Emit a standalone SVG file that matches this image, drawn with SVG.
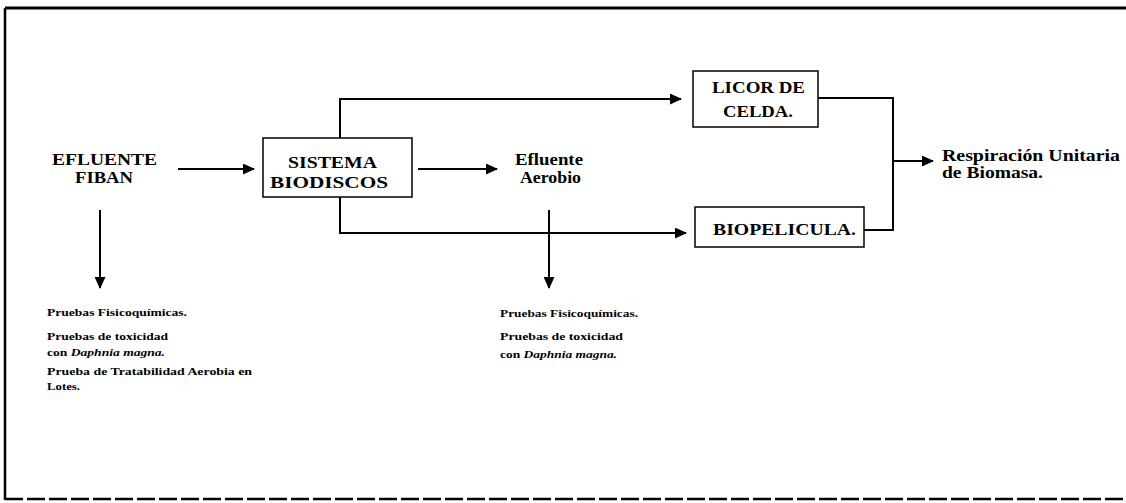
<svg xmlns="http://www.w3.org/2000/svg" width="1126" height="503" viewBox="0 0 1126 503">
  <style>
    .lbl { font-family: "Liberation Serif", "Times New Roman", serif; font-weight: bold; font-size: 17px; fill: #000; }
    .note { font-family: "Liberation Serif", "Times New Roman", serif; font-weight: bold; font-size: 11px; fill: #000; }
    .box { fill: #fff; stroke: #000; stroke-width: 1.5; }
    .wire { fill: none; stroke: #000; stroke-width: 2; }
  </style>
  <defs>
    <marker id="arrow" markerWidth="12" markerHeight="11" refX="11" refY="5.5" orient="auto" markerUnits="userSpaceOnUse">
      <path d="M0,0 L12,5.5 L0,11 Z" fill="#000"/>
    </marker>
  </defs>

  <rect width="1126" height="503" fill="#fff"/>

  <!-- page frame -->
  <g id="frame">
    <line x1="5" y1="8" x2="1126" y2="8" stroke="#000" stroke-width="3"/>
    <line x1="5" y1="8" x2="5" y2="500" stroke="#000" stroke-width="2.5"/>
    <line x1="5" y1="499" x2="1126" y2="499" stroke="#000" stroke-width="2.5" stroke-dasharray="18,4"/>
  </g>

  <!-- connectors -->
  <g id="connectors">
    <line class="wire" x1="178" y1="169" x2="254" y2="169" marker-end="url(#arrow)"/>
    <line class="wire" x1="418" y1="169" x2="497" y2="169" marker-end="url(#arrow)"/>
    <polyline class="wire" points="340,138 340,99 681,99" marker-end="url(#arrow)"/>
    <polyline class="wire" points="340,197 340,233 686,233" marker-end="url(#arrow)"/>
    <polyline class="wire" points="818,98 893,98 893,230 864,230"/>
    <line class="wire" x1="893" y1="161" x2="933" y2="161" marker-end="url(#arrow)"/>
    <line class="wire" x1="100" y1="210" x2="100" y2="288" marker-end="url(#arrow)"/>
    <line class="wire" x1="549" y1="210" x2="549" y2="288" marker-end="url(#arrow)"/>
  </g>

  <g id="efluente-fiban">
    <text class="lbl" x="52" y="165" textLength="105" lengthAdjust="spacingAndGlyphs">EFLUENTE</text>
    <text class="lbl" x="75" y="183" textLength="58" lengthAdjust="spacingAndGlyphs">FIBAN</text>
  </g>

  <g id="sistema-biodiscos">
    <rect class="box" x="263" y="138" width="149" height="59"/>
    <text class="lbl" x="288" y="168" textLength="89" lengthAdjust="spacingAndGlyphs">SISTEMA</text>
    <text class="lbl" x="270" y="188" textLength="118" lengthAdjust="spacingAndGlyphs">BIODISCOS</text>
  </g>

  <g id="efluente-aerobio">
    <text class="lbl" x="515" y="165" textLength="68" lengthAdjust="spacingAndGlyphs">Efluente</text>
    <text class="lbl" x="520" y="183" textLength="61" lengthAdjust="spacingAndGlyphs">Aerobio</text>
  </g>

  <g id="licor-celda">
    <rect class="box" x="693" y="71" width="125" height="56"/>
    <text class="lbl" x="712" y="93" textLength="93" lengthAdjust="spacingAndGlyphs">LICOR DE</text>
    <text class="lbl" x="723" y="117" textLength="70" lengthAdjust="spacingAndGlyphs">CELDA.</text>
  </g>

  <g id="biopelicula">
    <rect class="box" x="695" y="207" width="169" height="40"/>
    <text class="lbl" x="713" y="235" textLength="143" lengthAdjust="spacingAndGlyphs">BIOPELICULA.</text>
  </g>

  <g id="respiracion">
    <text class="lbl" x="942" y="161" textLength="178" lengthAdjust="spacingAndGlyphs">Respiración Unitaria</text>
    <text class="lbl" x="942" y="178" textLength="101" lengthAdjust="spacingAndGlyphs">de Biomasa.</text>
  </g>

  <g id="pruebas-fiban">
    <text class="note" x="47" y="316" textLength="140" lengthAdjust="spacingAndGlyphs">Pruebas Fisicoquímicas.</text>
    <text class="note" x="47" y="340" textLength="121" lengthAdjust="spacingAndGlyphs">Pruebas de toxicidad</text>
    <text class="note" x="47" y="356" textLength="118" lengthAdjust="spacingAndGlyphs">con <tspan font-style="italic">Daphnia magna.</tspan></text>
    <text class="note" x="47" y="375" textLength="205" lengthAdjust="spacingAndGlyphs">Prueba de Tratabilidad Aerobia en</text>
    <text class="note" x="47" y="390" textLength="33" lengthAdjust="spacingAndGlyphs">Lotes.</text>
  </g>

  <g id="pruebas-aerobio">
    <text class="note" x="500" y="317" textLength="138" lengthAdjust="spacingAndGlyphs">Pruebas Fisicoquímicas.</text>
    <text class="note" x="500" y="340" textLength="123" lengthAdjust="spacingAndGlyphs">Pruebas de toxicidad</text>
    <text class="note" x="500" y="358" textLength="117" lengthAdjust="spacingAndGlyphs">con <tspan font-style="italic">Daphnia magna.</tspan></text>
  </g>
</svg>
